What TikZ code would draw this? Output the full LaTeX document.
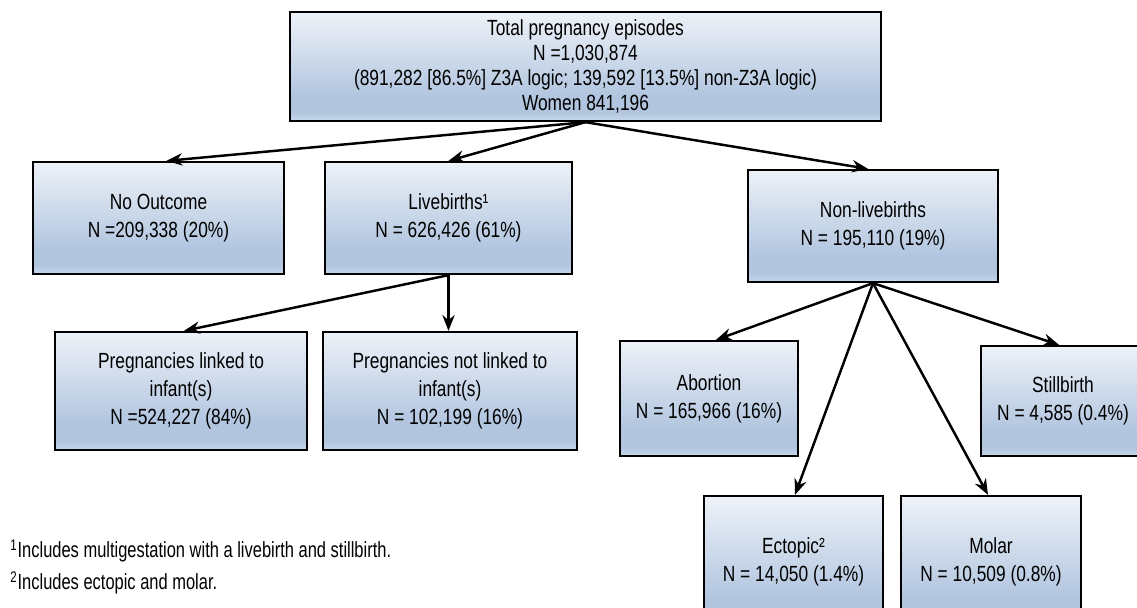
\documentclass[tikz,border=0pt]{standalone}
\usepackage{fontspec}
\setmainfont{Liberation Sans}[FakeStretch=0.79]
\newfontfamily\notefont{Liberation Sans}[FakeStretch=0.75]
\usetikzlibrary{arrows.meta,calc}

\definecolor{boxtop}{HTML}{EEF2F8}
\definecolor{boxmid}{HTML}{B1C5DF}
\definecolor{boxbot}{HTML}{C9D8EC}
% light at the top, darkest band just above the bottom edge
\pgfdeclareverticalshading{boxshade}{100bp}{color(0bp)=(boxbot); color(25bp)=(boxbot); color(29bp)=(boxmid); color(36bp)=(boxmid); color(75bp)=(boxtop); color(100bp)=(boxtop)}

\tikzset{
  flowbox/.style={rectangle, draw=black, line width=1.3pt, shading=boxshade,
    inner sep=0pt, align=center, text=black, font=\fontsize{12.5}{16}\selectfont},
  wh/.style 2 args={minimum width=#1*0.02cm, minimum height=#2*0.02cm},
  link/.style={line width=1.4pt, -{Stealth[length=9pt,width=7pt]}},
  note/.style={anchor=west, inner sep=0pt, font=\notefont\fontsize{12.5}{15}\selectfont}
}

\begin{document}
\begin{tikzpicture}[x=0.02cm, y=-0.02cm]
  \useasboundingbox (0,0) rectangle (1137,608);
  \clip (0,0) rectangle (1137,608);

  % boxes
  \node[flowbox, wh={591}{109}, font=\fontsize{12.5}{14.2}\selectfont] (total) at (585.5,66.5)
    {Total pregnancy episodes\\N =1,030,874\\(891,282 [86.5\%] Z3A logic; 139,592 [13.5\%] non-Z3A logic)\\Women 841,196};
  \node[flowbox, wh={251}{112}] (noout) at (158.5,218) {No Outcome\\N =209,338 (20\%)};
  \node[flowbox, wh={247}{112}] (live) at (448.5,218) {Livebirths¹\\N = 626,426 (61\%)};
  \node[flowbox, wh={250}{112}] (nonlive) at (873,226) {Non-livebirths\\N = 195,110 (19\%)};
  \node[flowbox, wh={252}{118}] (linked) at (181,391) {Pregnancies linked to\\infant(s)\\N =524,227 (84\%)};
  \node[flowbox, wh={254}{118}] (notlinked) at (450,391) {Pregnancies not linked to\\infant(s)\\N = 102,199 (16\%)};
  \node[flowbox, wh={178}{115}] (abort) at (709,398.5) {Abortion\\N = 165,966 (16\%)};
  \node[flowbox, wh={164}{110}] (still) at (1063,401) {Stillbirth\\N = 4,585 (0.4\%)};
  \node[flowbox, wh={179}{132}] (ectopic) at (793.5,562) {Ectopic²\\N = 14,050 (1.4\%)};
  \node[flowbox, wh={180}{132}] (molar) at (991,562) {Molar\\N = 10,509 (0.8\%)};

  % connectors
  \draw[link] (total.south) -- ($(noout.north)+(8,0)$);
  \draw[link] (total.south) -- (live.north);
  \draw[link] (total.south) -- ($(nonlive.north)+(-5,0)$);
  \draw[link] (live.south) -- ($(linked.north)+(3,0)$);
  \draw[link] (live.south) -- (live.south |- notlinked.north);
  \draw[link] (nonlive.south) -- ($(abort.north)+(7,0)$);
  \draw[link] (nonlive.south) -- ($(ectopic.north)+(1.5,0)$);
  \draw[link] (nonlive.south) -- ($(molar.north)+(-3,0)$);
  \draw[link] (nonlive.south) -- ($(still.north)+(-4,0)$);

  % footnotes
  \node[note] (note1) at (10,551) {\textsuperscript{1}Includes multigestation with a livebirth and stillbirth.};
  \node[note] (note2) at (10,583) {\textsuperscript{2}Includes ectopic and molar.};
\end{tikzpicture}
\end{document}
